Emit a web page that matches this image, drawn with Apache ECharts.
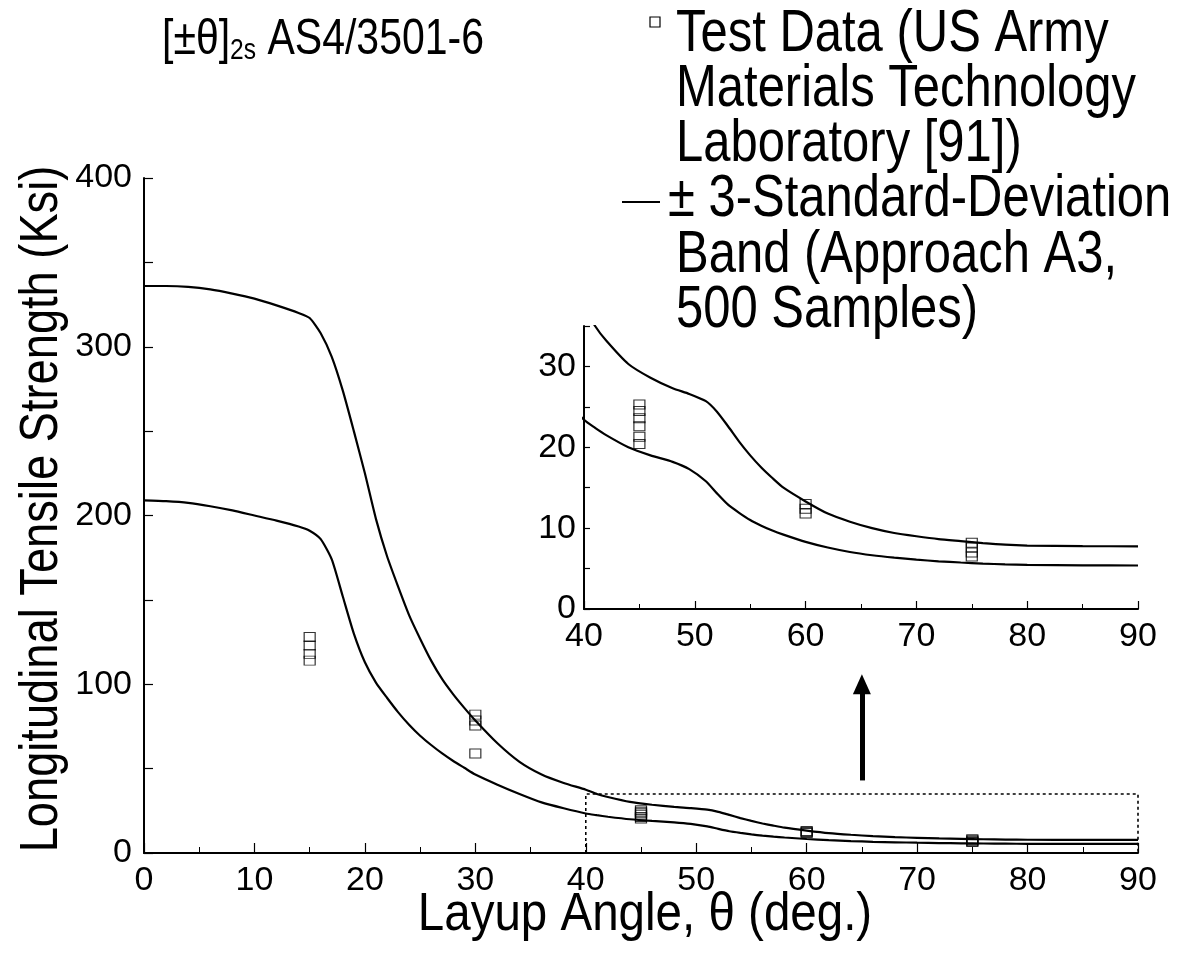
<!DOCTYPE html>
<html><head><meta charset="utf-8">
<script src="https://cdn.jsdelivr.net/npm/echarts@6/dist/echarts.min.js"></script>
<style>html,body{margin:0;padding:0;background:#fff}#c{width:1185px;height:963px}</style>
</head><body><div id="c"></div>
<script>
// ---- data ----
const curveX = [0,2,4,6,8,10,12,14,15,16,17,18,19,20,21,22,23,24,25,26,27,28,29,30,32,34,36,38,40,41,42,44,46,48,49.5,51,52,53,54,55,56,57,58,60,62,64,66,68,70,72,74,76,78,80,85,90];
const upperY = [336,336,335.5,334,331.5,328.5,324.5,320,317,308,294,274,250,225,198,176,158,141,127,114,103,94,86,78.5,65,54,46.5,41.5,37.5,35,33.2,30.3,28.6,27.3,26.6,25.7,24.4,22.6,20.7,19.0,17.5,16.2,15.0,13.3,11.8,10.8,10.0,9.4,9.0,8.65,8.4,8.15,7.95,7.85,7.78,7.74];
const lowerY = [209,208.5,207.5,205.5,203,200,197,193.5,191,186,174,152,130,113,101,92,83.5,76,69.5,64,59,54.5,50.5,46.5,40.5,35,30,26.5,23.4,22.4,21.5,20.0,19.0,18.2,17.3,15.8,14.3,12.9,11.9,11.0,10.3,9.7,9.2,8.3,7.6,7.05,6.65,6.35,6.1,5.9,5.75,5.62,5.52,5.45,5.4,5.38];
const testX = [15,15,15,15,30,30,30,30,45,45,45,45,45,45,60,60,60,75,75,75,75];
const testY = [128,123,118,114,82,78.5,75.5,59,25.3,24.5,23.6,22.6,21.3,20.4,13.0,12.4,11.8,8.2,7.6,7.0,6.5];
const boxX = [40,40,90,90,40];
const boxY = [0,35,35,0,0];
const arrowFrom = [65,43];
const arrowTo = [65,100];
const titleParts = ['[±θ]','2s',' AS4/3501-6'];
const legendLines = ['Test Data (US Army','Materials Technology','Laboratory [91])','± 3-Standard-Deviation','Band (Approach A3,','500 Samples)'];
const xName = 'Layup Angle, θ (deg.)';
const yName = 'Longitudinal Tensile Strength (Ksi)';

// ---- chart ----
const FF = "'Liberation Sans',Arial,sans-serif";
const chart = echarts.init(document.getElementById('c'));
const pts = (xs, ys) => xs.map((x,i)=>[x, ys[i]]);
const lineS = { color:'#000', width:2.2 };
const axisLbl = { color:'#000', fontFamily:FF, fontSize:34 };

function curve(xi, yi, ys){
  return { type:'line', xAxisIndex:xi, yAxisIndex:yi, data:pts(curveX, ys), showSymbol:false, symbol:'none',
    smooth:0.2, lineStyle:lineS, clip:true, silent:true, z:3 };
}
function scatter(xi, yi, filt){
  const d = pts(testX, testY).filter(p=>p[0]>=filt);
  return { type:'scatter', xAxisIndex:xi, yAxisIndex:yi, data:d, symbol:'rect', symbolSize:[11,9],
    itemStyle:{ color:'rgba(255,255,255,0)', borderColor:'#000', borderWidth:1.1 }, silent:true, z:4 };
}

const option = {
  backgroundColor:'#fff',
  animation:false,
  grid:[
    { left:144, top:178, width:994, height:675 },
    { left:584, top:326, width:554, height:283 }
  ],
  xAxis:[
    { type:'value', gridIndex:0, min:0, max:90, interval:10,
      axisLine:{ lineStyle:{ color:'#000', width:2 } },
      axisTick:{ inside:true, length:10, lineStyle:{ color:'#000', width:1.2 } },
      minorTick:{ show:true, splitNumber:2, length:6, lineStyle:{ color:'#000', width:1 } },
      splitLine:{ show:false }, axisLabel:{ ...axisLbl, margin:11 } },
    { type:'value', gridIndex:1, min:40, max:90, interval:10,
      axisLine:{ lineStyle:{ color:'#000', width:2 } },
      axisTick:{ inside:true, length:8, lineStyle:{ color:'#000', width:1.2 } },
      minorTick:{ show:true, splitNumber:2, length:5, lineStyle:{ color:'#000', width:1 } },
      splitLine:{ show:false }, axisLabel:{ ...axisLbl, margin:11 } }
  ],
  yAxis:[
    { type:'value', gridIndex:0, min:0, max:400, interval:50,
      axisLine:{ show:true, lineStyle:{ color:'#000', width:2 } },
      axisTick:{ show:true, inside:true, length:9, lineStyle:{ color:'#000', width:1.2 } },
      splitLine:{ show:false },
      axisLabel:{ ...axisLbl, margin:12, formatter:v => v%100===0 ? String(v) : '' } },
    { type:'value', gridIndex:1, min:0, max:35, interval:5,
      axisLine:{ show:true, lineStyle:{ color:'#000', width:2 } },
      axisTick:{ show:true, inside:true, length:6, lineStyle:{ color:'#000', width:1.2 } },
      splitLine:{ show:false },
      axisLabel:{ ...axisLbl, margin:8, formatter:v => v%10===0 ? String(v) : '' } }
  ],
  series:[
    curve(0,0,upperY), curve(0,0,lowerY),
    curve(1,1,upperY), curve(1,1,lowerY),
    scatter(0,0,0), scatter(1,1,40),
    { type:'line', xAxisIndex:0, yAxisIndex:0, data:pts(boxX, boxY), showSymbol:false, symbol:'none',
      lineStyle:{ color:'#000', width:1.6, type:[3,3] }, silent:true, z:2,
      markLine:{ silent:true, symbol:['none','triangle'], symbolSize:[18,20], label:{show:false},
        lineStyle:{ color:'#000', width:5, type:'solid' },
        data:[[ { coord:arrowFrom }, { coord:arrowTo } ]] } }
  ],
  graphic:[
    { type:'text', x:162, y:40, scaleX:0.82, style:{
        text:'{a|'+titleParts[0]+'}{b|'+titleParts[1]+'}{a|'+titleParts[2]+'}',
        rich:{ a:{ fontSize:50, fontFamily:FF, fill:'#000' }, b:{ fontSize:30, fontFamily:FF, fill:'#000', padding:[22,0,0,0] } },
        verticalAlign:'middle', fill:'#000' } },
    { type:'rect', shape:{ x:650, y:17, width:10, height:10 }, style:{ fill:'#fff', stroke:'#000', lineWidth:1.2 } },
    { type:'line', shape:{ x1:622, y1:202, x2:660, y2:202 }, style:{ stroke:'#000', lineWidth:2 } },
    ...legendLines.map((t,i)=>({ type:'text', x: i===3 ? 668 : 676, y:[35,90,145,200,256,311][i], scaleX:0.83,
      style:{ text:t, fontSize:59, fontFamily:FF, fill:'#000', verticalAlign:'middle' } })),
    { type:'text', x:645, y:915, scaleX:0.88, style:{ text:xName, fontSize:54, fontFamily:FF, fill:'#000', align:'center', verticalAlign:'middle' } },
    { type:'text', x:42, y:509, rotation:Math.PI/2, scaleX:0.838, style:{ text:yName, fontSize:54, fontFamily:FF, fill:'#000', align:'center', verticalAlign:'middle' } }
  ]
};
chart.setOption(option);
</script>
</body></html>
